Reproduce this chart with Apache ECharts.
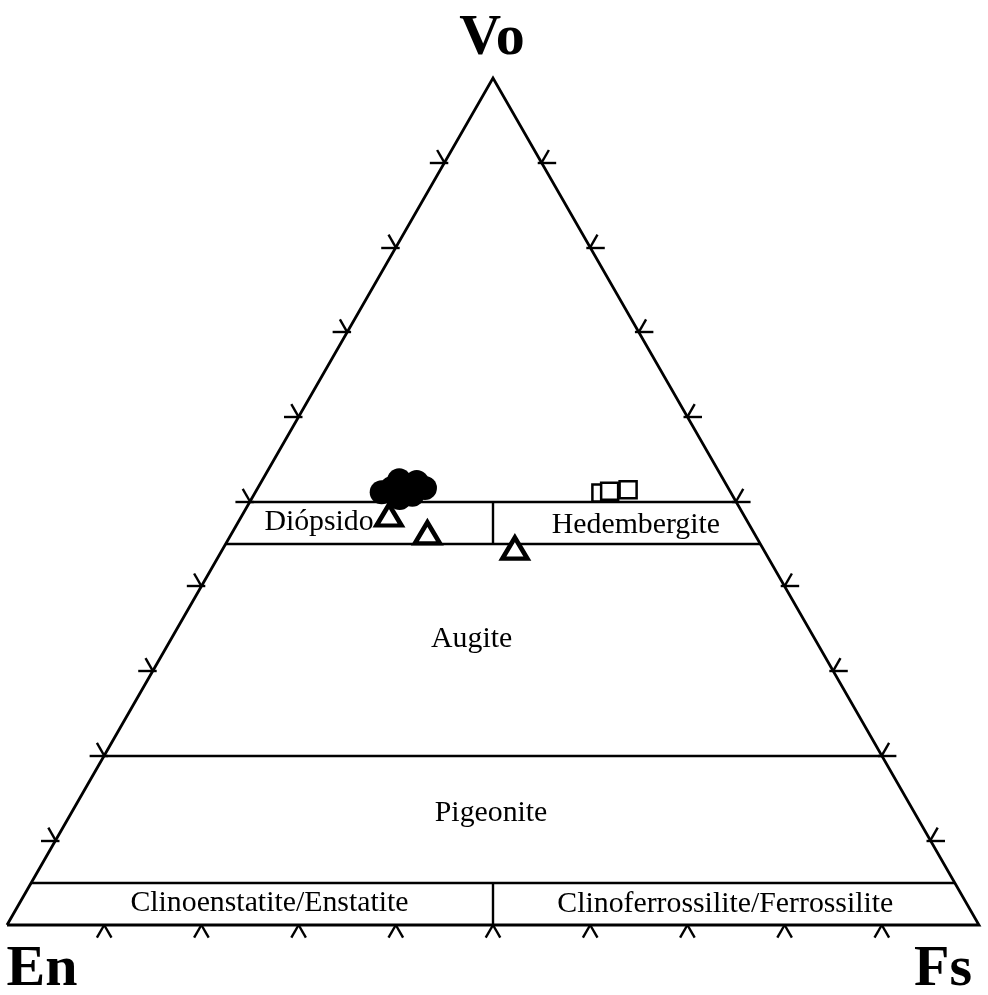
<!DOCTYPE html>
<html>
<head>
<meta charset="utf-8">
<script src="https://cdn.jsdelivr.net/npm/echarts@6/dist/echarts.min.js"></script>
<style>
  html, body { margin: 0; padding: 0; background: #fff; }
  #chart { width: 988px; height: 995px; }
</style>
</head>
<body>
<div id="chart"></div>
<script>
// compositions are [En, Wo, Fs] in %
const apexNames = ['En', 'Vo', 'Fs']
const tickSteps = [10, 20, 30, 40, 50, 60, 70, 80, 90]
const woBoundaries = [50, 45, 20, 5]
const dividerSpans = [[45, 50], [0, 5]]
const fieldNames = ['Diópsido', 'Hedembergite', 'Augite', 'Pigeonite', 'Clinoenstatite/Enstatite', 'Clinoferrossilite/Ferrossilite']

const filledCircles = [
  [35.9, 51.1, 13.0],
  [34.6, 51.6, 13.8],
  [33.4, 52.5, 14.1],
  [31.7, 52.3, 16.0],
  [31.2, 51.6, 17.2],
  [34.4, 50.4, 15.2],
  [32.9, 50.8, 16.3]
]
const openTriangles = [
  [36.5, 48.4, 15.1],
  [33.6, 46.3, 20.1],
  [25.5, 44.5, 30.0]
]
const openSquares = [
  [13.4, 51.0, 35.6],
  [12.4, 51.2, 36.4],
  [10.4, 51.4, 38.2]
]

// where text sits, in plot units [x, y]
const fieldLabelPos = [[32.1, 47.5], [64.7, 47.2], [47.8, 33.7], [49.8, 13.2], [27.0, 2.6], [73.9, 2.5]]
const apexLabelPos = [[3.6, -5.3], [49.9, 104.6], [96.3, -5.3]]

const TICK = 1.5
const serif = '"Liberation Serif", "DejaVu Serif", serif'

function toXY(c) {
  const s = c[0] + c[1] + c[2]
  const wo = c[1] / s * 100
  const fs = c[2] / s * 100
  return [fs + wo / 2, wo]
}

const outline = [[100, 0, 0], [0, 100, 0], [0, 0, 100], [100, 0, 0]].map(toXY)

const boundaryLines = woBoundaries.map(w => ({
  coords: [toXY([100 - w, w, 0]), toXY([0, w, 100 - w])]
}))
dividerSpans.forEach(sp => {
  boundaryLines.push({
    coords: [toXY([(100 - sp[0]) / 2, sp[0], (100 - sp[0]) / 2]), toXY([(100 - sp[1]) / 2, sp[1], (100 - sp[1]) / 2])]
  })
})

// little two-armed ticks on the outside of each edge
const tickLines = []
tickSteps.forEach(v => {
  // left edge (Fs = 0), v = Wo
  const l = toXY([100 - v, v, 0])
  tickLines.push({ coords: [[l[0] + 0.4, v], [l[0] - TICK, v]] })
  tickLines.push({ coords: [l, [l[0] - TICK / 2, v + TICK]] })
  // right edge (En = 0)
  const r = toXY([0, v, 100 - v])
  tickLines.push({ coords: [[r[0] - 0.4, v], [r[0] + TICK, v]] })
  tickLines.push({ coords: [r, [r[0] + TICK / 2, v + TICK]] })
  // bottom edge (Wo = 0), v = Fs
  tickLines.push({ coords: [[v, 0], [v - TICK / 2, -TICK]] })
  tickLines.push({ coords: [[v, 0], [v + TICK / 2, -TICK]] })
})

const chart = echarts.init(document.getElementById('chart'))
chart.setOption({
  animation: false,
  backgroundColor: '#fff',
  grid: { left: 7, right: 9, top: 78, bottom: 70 },
  xAxis: { type: 'value', min: 0, max: 100, show: false },
  yAxis: { type: 'value', min: 0, max: 100, show: false },
  series: [
    {
      type: 'lines',
      coordinateSystem: 'cartesian2d',
      polyline: true,
      clip: false,
      silent: true,
      lineStyle: { color: '#000', width: 2.8, opacity: 1 },
      data: [{ coords: outline }]
    },
    {
      type: 'lines',
      coordinateSystem: 'cartesian2d',
      clip: false,
      silent: true,
      lineStyle: { color: '#000', width: 2.4, opacity: 1 },
      data: boundaryLines
    },
    {
      type: 'lines',
      coordinateSystem: 'cartesian2d',
      clip: false,
      silent: true,
      lineStyle: { color: '#000', width: 2.4, opacity: 1 },
      data: tickLines
    },
    {
      type: 'scatter',
      clip: false,
      symbol: 'circle',
      symbolSize: 24,
      itemStyle: { color: '#000', opacity: 1 },
      data: filledCircles.map(toXY)
    },
    {
      type: 'scatter',
      clip: false,
      symbol: 'rect',
      symbolSize: 17,
      itemStyle: { color: '#fff', borderColor: '#000', borderWidth: 2.5, opacity: 1 },
      data: openSquares.map(toXY)
    },
    {
      type: 'scatter',
      clip: false,
      symbol: 'triangle',
      symbolSize: [25, 21],
      itemStyle: { color: '#fff', borderColor: '#000', borderWidth: 4.5, opacity: 1 },
      data: openTriangles.map(toXY)
    },
    {
      type: 'scatter',
      clip: false,
      silent: true,
      symbolSize: 1,
      itemStyle: { color: 'rgba(0,0,0,0)' },
      label: {
        show: true,
        position: 'inside',
        formatter: '{b}',
        color: '#000',
        opacity: 1,
        textBorderWidth: 0,
        fontFamily: serif,
        fontSize: 29.8
      },
      data: fieldNames.map((n, i) => ({ name: n, value: fieldLabelPos[i] }))
    },
    {
      type: 'scatter',
      clip: false,
      silent: true,
      symbolSize: 1,
      itemStyle: { color: 'rgba(0,0,0,0)' },
      label: {
        show: true,
        position: 'inside',
        formatter: '{b}',
        color: '#000',
        opacity: 1,
        textBorderWidth: 0,
        fontFamily: serif,
        fontWeight: 'bold',
        fontSize: 58
      },
      data: apexNames.map((n, i) => ({ name: n, value: apexLabelPos[i] }))
    }
  ]
})
</script>
</body>
</html>
